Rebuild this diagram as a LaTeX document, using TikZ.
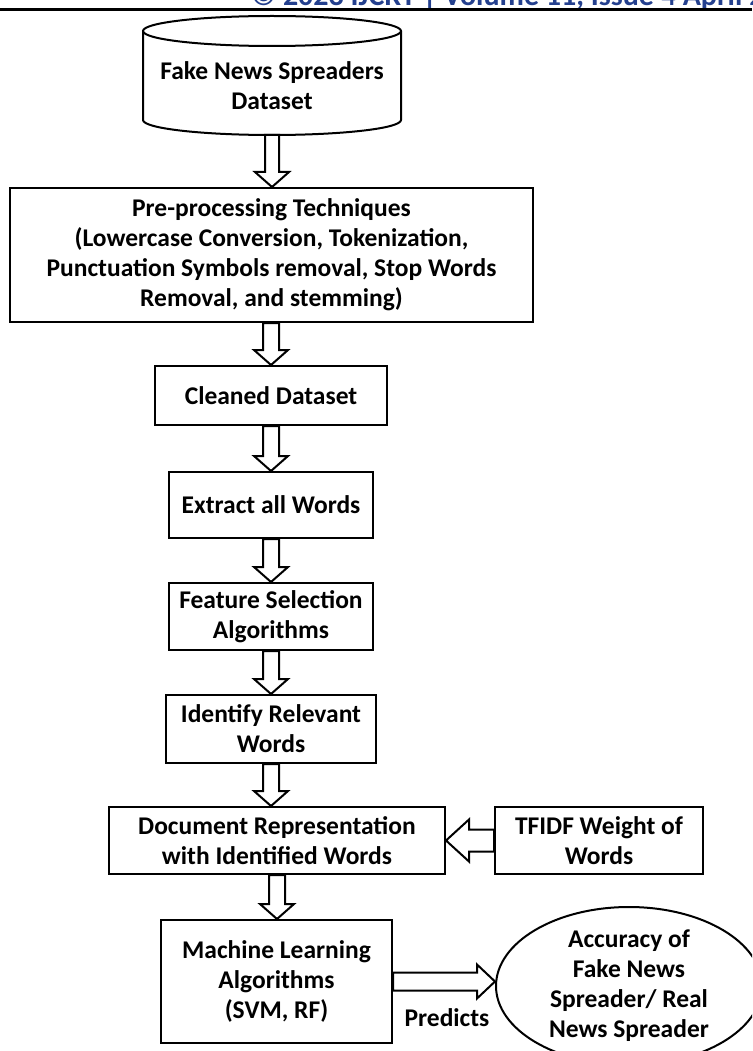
\documentclass[tikz,border=0pt]{standalone}
\usepackage{fontspec}
\setmainfont{Carlito}
\usepackage{xcolor}
\usepackage{tikz}
\usetikzlibrary{calc,shapes.geometric}
\definecolor{hdrblue}{RGB}{36,64,142}

\newcommand\shafthw{8}
\newcommand\headhw{17}
\newcommand\headlen{15}

\tikzset{
  every node/.style={inner sep=0pt, align=center, font=\bfseries\fontsize{25.5}{30}\selectfont},
  box/.style={draw, line width=2pt},
  shafthw/.store in=\shafthw, headhw/.store in=\headhw, headlen/.store in=\headlen,
  hollow/.style={draw, fill=white, line width=2pt, to path={
    let \p1=(\tikztostart), \p2=(\tikztotarget),
        \n1={atan2(\y2-\y1,\x2-\x1)}, \n2={veclen(\x2-\x1,\y2-\y1)} in
    {[shift={(\p1)}, rotate=\n1]
      (0,-\shafthw) -- (\n2-\headlen,-\shafthw) -- (\n2-\headlen,-\headhw) -- (\n2,0)
      -- (\n2-\headlen,\headhw) -- (\n2-\headlen,\shafthw) -- (0,\shafthw) -- cycle}}}
}

\begin{document}
\begin{tikzpicture}[x=1pt, y=1pt]
  \useasboundingbox (0,0) rectangle (752,-1051);
  \clip (0,0) rectangle (752,-1051);
  % page header
  \node[anchor=base west, text=hdrblue, font=\bfseries\fontsize{30}{34}\selectfont] (hdr) at (251,-6) {© 2023 IJCRT | Volume 11, Issue 4 April 2023 | ISSN: 2320-2882};
  \draw[line width=3.5pt] (0,-9.5) -- (752,-9.5);
  % dataset cylinder
  \draw[line width=2pt] (143,-31) -- (143,-120) arc[start angle=180, end angle=360, x radius=129, y radius=15] -- (401,-31);
  \draw[line width=2pt] (272,-31) ellipse[x radius=129, y radius=15];
  \node (data) at (272,-86) {Fake News Spreaders\\Dataset};
  \coordinate (databot) at (272,-135);
  % boxes
  \node[box, minimum width=523, minimum height=134] (pre) at (271.5,-255) {Pre-processing Techniques\\(Lowercase Conversion, Tokenization,\\Punctuation Symbols removal, Stop Words\\Removal, and stemming)};
  \node[box, minimum width=232, minimum height=59] (clean) at (271,-395.5) {Cleaned Dataset};
  \node[box, minimum width=204, minimum height=66] (extract) at (271,-505) {Extract all Words};
  \node[box, minimum width=204, minimum height=67] (featsel) at (271,-616.5) {Feature Selection\\Algorithms};
  \node[box, minimum width=210, minimum height=68] (ident) at (271,-729) {Identify Relevant\\Words};
  \node[box, minimum width=336, minimum height=67] (docrep) at (277,-840.5) {Document Representation\\with Identified Words};
  \node[box, minimum width=208, minimum height=67] (tfidf) at (599,-840.5) {TFIDF Weight of\\Words};
  \node[box, minimum width=231, minimum height=123] (mlalg) at (276.5,-981.5) {Machine Learning\\Algorithms\\(SVM, RF)};
  \node[box, ellipse, minimum width=266, minimum height=152] (result) at (629,-986) {Accuracy of\\Fake News\\Spreader/ Real\\News Spreader};
  % arrows
  \draw[hollow, shafthw=7] (databot) to (databot |- pre.north);
  \draw[hollow] (pre.south -| clean.north) to (clean.north);
  \draw[hollow] (clean.south) to (extract.north);
  \draw[hollow] (extract.south) to (featsel.north);
  \draw[hollow] (featsel.south) to (ident.north);
  \draw[hollow] (ident.south) to (ident.south |- docrep.north);
  \draw[hollow] (docrep.south) to (docrep.south |- mlalg.north);
  \draw[hollow, shafthw=11, headhw=21, headlen=23] (tfidf.west) to (docrep.east);
  \draw[hollow, shafthw=9, headhw=17, headlen=18] (mlalg.east) to (mlalg.east -| result.west);
  \node (pred) at (447,-1018) {Predicts};
\end{tikzpicture}
\end{document}
